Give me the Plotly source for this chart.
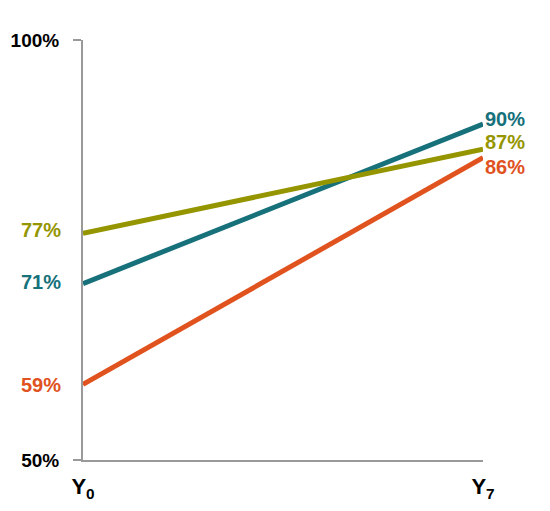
import plotly.graph_objects as go

periods = [0, 7]
period_labels = ["<b>Y<sub>0</sub></b>", "<b>Y<sub>7</sub></b>"]
series_names = ["Teal", "Olive", "Orange"]
teal_values = [71, 90]
olive_values = [77, 87]
orange_values = [59, 86]
y_ticks = [50, 100]
y_tick_labels = ["<b>50%</b>", "<b>100%</b>"]

colors = {"Teal": "#16717A", "Olive": "#959500", "Orange": "#E0521E"}
values = {"Teal": teal_values, "Olive": olive_values, "Orange": orange_values}
right_shift = {"Teal": 5, "Olive": 7, "Orange": -9}
left_shift = {"Teal": 2, "Olive": 3, "Orange": -1}

label_font = "Liberation Sans, Arial, sans-serif"

fig = go.Figure()
annotations = []
for name in ["Orange", "Teal", "Olive"]:
    v = values[name]
    fig.add_trace(go.Scatter(
        x=periods, y=v, mode="lines", name=name,
        line=dict(color=colors[name], width=5),
        showlegend=False, hoverinfo="skip",
    ))
    annotations.append(dict(
        x=periods[0], y=v[0], xref="x", yref="y", text=f"<b>{v[0]}%</b>",
        showarrow=False, xanchor="right", yanchor="middle", xshift=-20,
        yshift=left_shift[name],
        font=dict(family=label_font, size=20, color=colors[name]),
    ))
    annotations.append(dict(
        x=periods[1], y=v[1], xref="x", yref="y", text=f"<b>{v[1]}%</b>",
        showarrow=False, xanchor="left", yanchor="middle", xshift=0,
        yshift=right_shift[name],
        font=dict(family=label_font, size=20, color=colors[name]),
    ))

fig.update_layout(
    template="none",
    width=550, height=511,
    margin=dict(l=75, r=75, t=32, b=59, pad=0),
    paper_bgcolor="white", plot_bgcolor="white",
    annotations=annotations,
    font=dict(family="Liberation Sans, Arial, sans-serif", color="black"),
    xaxis=dict(
        range=[0, 7], tickvals=periods, ticktext=period_labels,
        showgrid=False, zeroline=False, showline=True, linecolor="#999999",
        linewidth=2, ticks="", ticklabelstandoff=6, automargin=False,
        tickfont=dict(size=22, color="black"),
    ),
    yaxis=dict(
        range=[50, 100], tickvals=y_ticks, ticktext=y_tick_labels,
        showgrid=False, zeroline=False, showline=True, linecolor="#999999",
        linewidth=2, ticks="outside", ticklen=8, tickwidth=2, tickcolor="#999999",
        ticklabelstandoff=10, automargin=False,
        tickfont=dict(size=19, color="black"),
    ),
)

fig.write_html("out.html")
